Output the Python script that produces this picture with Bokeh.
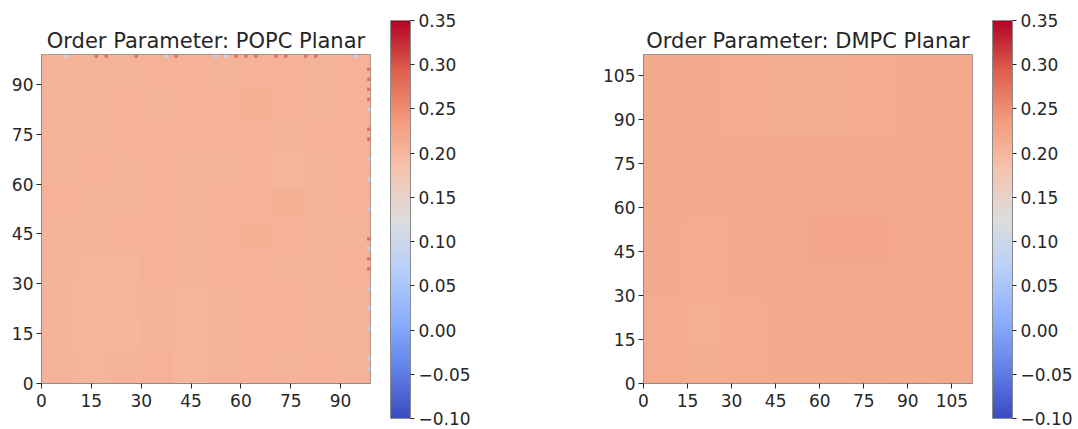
import numpy as np
from bokeh.plotting import figure
from bokeh.layouts import row
from bokeh.models import (LinearColorMapper, FixedTicker, Range1d, CustomJSTickFormatter,
                          ColorBar, ColumnDataSource)
from bokeh.embed import file_html
from bokeh.resources import INLINE

# ---------------- data ----------------
popc_title = "Order Parameter: POPC Planar"
dmpc_title = "Order Parameter: DMPC Planar"
popc_size = 99
dmpc_size = 112
vmin, vmax = -0.10, 0.35
popc_ticks = [0, 15, 30, 45, 60, 75, 90]
dmpc_ticks = [0, 15, 30, 45, 60, 75, 90, 105]
cbar_ticks = [-0.10, -0.05, 0.00, 0.05, 0.10, 0.15, 0.20, 0.25, 0.30, 0.35]

# coarse POPC grid, rows from bottom (y=0) to top
popc_grid = [
    [0.204, 0.201, 0.203, 0.205, 0.200, 0.203, 0.205, 0.204, 0.205, 0.203],
    [0.203, 0.200, 0.199, 0.204, 0.200, 0.204, 0.205, 0.205, 0.203, 0.204],
    [0.204, 0.200, 0.202, 0.203, 0.201, 0.203, 0.205, 0.205, 0.203, 0.204],
    [0.203, 0.201, 0.201, 0.205, 0.204, 0.205, 0.205, 0.203, 0.204, 0.205],
    [0.203, 0.204, 0.205, 0.205, 0.204, 0.205, 0.206, 0.205, 0.203, 0.204],
    [0.205, 0.203, 0.204, 0.205, 0.203, 0.205, 0.205, 0.206, 0.204, 0.205],
    [0.204, 0.205, 0.203, 0.205, 0.204, 0.203, 0.205, 0.202, 0.204, 0.205],
    [0.203, 0.204, 0.205, 0.205, 0.205, 0.205, 0.205, 0.204, 0.205, 0.205],
    [0.203, 0.203, 0.205, 0.204, 0.205, 0.205, 0.206, 0.205, 0.204, 0.205],
    [0.203, 0.203, 0.204, 0.205, 0.205, 0.204, 0.205, 0.205, 0.204, 0.205],
]
# POPC edge artefacts: top row and right column samples (every 3rd cell)
popc_top_edge = [0.21, 0.21, 0.08, 0.21, 0.21, 0.28, 0.28, 0.21, 0.21, 0.28, 0.21,
                 0.21, 0.08, 0.28, 0.21, 0.21, 0.21, 0.08, 0.08, 0.28, 0.28, 0.28,
                 0.21, 0.28, 0.28, 0.21, 0.28, 0.28, 0.21, 0.21, 0.21, 0.08, 0.21]
popc_right_edge = [0.21, 0.08, 0.08, 0.21, 0.21, 0.08, 0.21, 0.08, 0.21, 0.08, 0.21,
                   0.28, 0.28, 0.08, 0.28, 0.21, 0.21, 0.08, 0.21, 0.21, 0.08, 0.21,
                   0.08, 0.21, 0.28, 0.28, 0.21, 0.08, 0.28, 0.28, 0.28, 0.28, 0.21]

# coarse DMPC grid, rows from bottom (y=0) to top
dmpc_grid = [
    [0.214, 0.212, 0.214, 0.216, 0.215, 0.217, 0.216, 0.217],
    [0.214, 0.211, 0.213, 0.216, 0.217, 0.218, 0.217, 0.216],
    [0.215, 0.213, 0.215, 0.217, 0.219, 0.219, 0.217, 0.216],
    [0.216, 0.214, 0.216, 0.218, 0.220, 0.220, 0.218, 0.217],
    [0.217, 0.215, 0.216, 0.217, 0.219, 0.218, 0.217, 0.216],
    [0.217, 0.216, 0.215, 0.215, 0.215, 0.217, 0.217, 0.216],
    [0.217, 0.216, 0.214, 0.212, 0.212, 0.214, 0.216, 0.216],
    [0.217, 0.216, 0.214, 0.212, 0.212, 0.214, 0.216, 0.217],
]

# ---------------- colormap (matplotlib "coolwarm" anchors) ----------------
anchors = [(58, 76, 192), (98, 130, 234), (141, 176, 254), (184, 208, 249),
           (221, 221, 221), (245, 196, 173), (244, 154, 123), (222, 96, 77),
           (180, 4, 38)]


def build_palette(n=256):
    pal = []
    k = len(anchors) - 1
    for i in range(n):
        t = i / (n - 1) * k
        j = min(int(t), k - 1)
        f = t - j
        c = [round(anchors[j][m] + (anchors[j + 1][m] - anchors[j][m]) * f) for m in range(3)]
        pal.append("#%02x%02x%02x" % tuple(c))
    return pal


palette = build_palette()

FONT = "DejaVu Sans"
TXT = "#262626"
SPINE = "#8c8c8c"
H = 429
TOP = 54
FR = 329


def heatmap(title, grid, size, ticks, left, right, edges=None):
    mapper = LinearColorMapper(palette=palette, low=vmin, high=vmax)
    p = figure(width=left + FR + right, height=H, frame_width=FR, frame_height=FR,
               min_border_left=left, min_border_right=right, min_border_top=TOP,
               min_border_bottom=H - TOP - FR,
               x_range=Range1d(0, size), y_range=Range1d(0, size),
               output_backend="svg", toolbar_location=None, title=title)
    p.image(image=[np.array(grid)], x=0, y=0, dw=size, dh=size, color_mapper=mapper)
    if edges is not None:
        top, rightcol = edges
        xs = [3 * i + 1.5 for i in range(len(top))]
        s1 = ColumnDataSource(dict(x=xs, y=[size - 0.5] * len(top), v=top))
        p.rect("x", "y", width=1, height=1, source=s1,
               fill_color={"field": "v", "transform": mapper}, line_color=None)
        ys = [3 * i + 1.5 for i in range(len(rightcol))]
        s2 = ColumnDataSource(dict(x=[size - 0.5] * len(rightcol), y=ys, v=rightcol))
        p.rect("x", "y", width=1, height=1, source=s2,
               fill_color={"field": "v", "transform": mapper}, line_color=None)
    p.xaxis.ticker = FixedTicker(ticks=ticks)
    p.yaxis.ticker = FixedTicker(ticks=ticks)
    p.title.text_font = FONT
    p.title.text_font_size = "21px"
    p.title.text_font_style = "normal"
    p.title.text_color = TXT
    p.title.align = "center"
    p.title.offset = 0
    p.title.standoff = 4
    for ax in (p.xaxis[0], p.yaxis[0]):
        ax.major_label_text_font = FONT
        ax.major_label_text_font_size = "17px"
        ax.major_label_text_color = TXT
        ax.axis_line_color = SPINE
        ax.major_tick_line_color = TXT
        ax.major_tick_out = 5
        ax.major_tick_in = 0
        ax.minor_tick_line_color = None
    p.xaxis[0].major_label_standoff = 5
    p.yaxis[0].major_label_standoff = 3
    p.outline_line_color = SPINE
    p.grid.visible = False
    p.background_fill_color = "white"
    p.border_fill_color = "white"

    cb = ColorBar(color_mapper=mapper, ticker=FixedTicker(ticks=cbar_ticks),
                  formatter=CustomJSTickFormatter(
                      code="return (tick < -1e-9 ? '\\u2212' : '') + Math.abs(tick).toFixed(2);"),
                  width=20, height=398, location="center", orientation="vertical",
                  margin=0, padding=20, label_standoff=4,
                  major_label_text_font=FONT, major_label_text_font_size="17px",
                  major_label_text_color=TXT,
                  major_tick_out=4, major_tick_in=0, major_tick_line_color=TXT,
                  minor_tick_line_color=None,
                  bar_line_color=SPINE, border_line_color=None,
                  background_fill_color=None)
    p.add_layout(cb, "right")
    return p


p1 = heatmap(popc_title, popc_grid, popc_size, popc_ticks, 41, 200,
             edges=(popc_top_edge, popc_right_edge))
p2 = heatmap(dmpc_title, dmpc_grid, dmpc_size, dmpc_ticks, 73, 104)

layout = row(p1, p2, spacing=0)
open("out.html", "w").write(file_html(layout, INLINE))
